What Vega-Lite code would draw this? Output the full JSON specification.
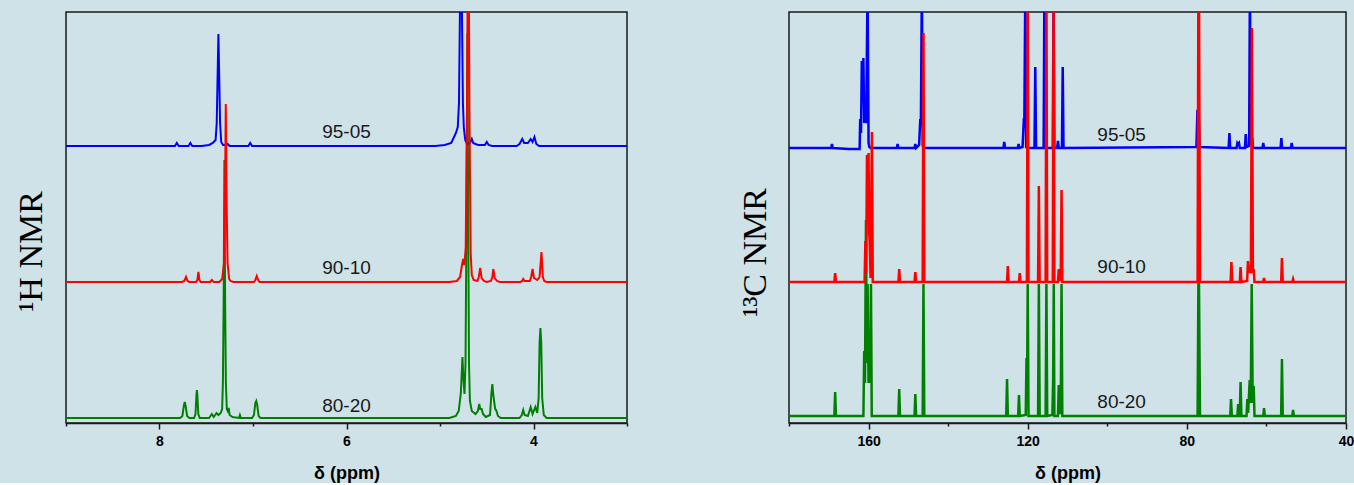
{
"$schema":"https://vega.github.io/schema/vega-lite/v6.json",
"background":"#cfe2e8",
"padding":{"left":13,"top":11,"right":0,"bottom":0},
"bounds":"flush",
"spacing":162,
"datasets":{
"h1b":[{"x":9,"y":277},{"x":7.87,"y":277},{"x":7.835,"y":277},{"x":7.815,"y":280},{"x":7.795,"y":277},{"x":7.69,"y":277},{"x":7.67,"y":280},{"x":7.65,"y":277},{"x":7.55,"y":277},{"x":7.47,"y":278},{"x":7.43,"y":280},{"x":7.4,"y":283},{"x":7.388,"y":300},{"x":7.378,"y":350},{"x":7.37,"y":389},{"x":7.362,"y":350},{"x":7.352,"y":300},{"x":7.34,"y":281},{"x":7.32,"y":278},{"x":7.29,"y":278},{"x":7.27,"y":279},{"x":7.25,"y":277},{"x":7.05,"y":277},{"x":7.03,"y":280},{"x":7.01,"y":277},{"x":5.05,"y":277},{"x":4.95,"y":278},{"x":4.88,"y":280},{"x":4.845,"y":287},{"x":4.83,"y":290},{"x":4.81,"y":296},{"x":4.797,"y":320},{"x":4.788,"y":400},{"x":4.78,"y":480},{"x":4.772,"y":480},{"x":4.764,"y":400},{"x":4.755,"y":320},{"x":4.745,"y":295},{"x":4.73,"y":283},{"x":4.71,"y":279},{"x":4.68,"y":280},{"x":4.66,"y":284},{"x":4.645,"y":280},{"x":4.62,"y":279},{"x":4.59,"y":278},{"x":4.52,"y":278},{"x":4.5,"y":281},{"x":4.48,"y":278},{"x":4.44,"y":277},{"x":4.18,"y":277},{"x":4.15,"y":279},{"x":4.12,"y":284},{"x":4.1,"y":280},{"x":4.06,"y":280},{"x":4.03,"y":284},{"x":4.01,"y":281},{"x":3.99,"y":286},{"x":3.97,"y":279},{"x":3.94,"y":277},{"x":3,"y":277}],
"h1r":[{"x":9,"y":141},{"x":7.76,"y":141},{"x":7.735,"y":142},{"x":7.716,"y":146},{"x":7.7,"y":142},{"x":7.68,"y":141},{"x":7.61,"y":141},{"x":7.595,"y":143},{"x":7.584,"y":151},{"x":7.573,"y":143},{"x":7.56,"y":141},{"x":7.46,"y":141},{"x":7.44,"y":143},{"x":7.42,"y":141},{"x":7.36,"y":141},{"x":7.33,"y":144},{"x":7.31,"y":160},{"x":7.3,"y":220},{"x":7.291,"y":319},{"x":7.282,"y":220},{"x":7.272,"y":160},{"x":7.255,"y":144},{"x":7.24,"y":142},{"x":7.21,"y":141},{"x":6.99,"y":141},{"x":6.975,"y":143},{"x":6.96,"y":147},{"x":6.945,"y":143},{"x":6.93,"y":141},{"x":4.9,"y":141},{"x":4.82,"y":142},{"x":4.785,"y":146},{"x":4.765,"y":158},{"x":4.752,"y":164},{"x":4.74,"y":158},{"x":4.725,"y":175},{"x":4.712,"y":300},{"x":4.703,"y":460},{"x":4.693,"y":460},{"x":4.684,"y":300},{"x":4.672,"y":170},{"x":4.66,"y":148},{"x":4.64,"y":143},{"x":4.6,"y":142},{"x":4.585,"y":146},{"x":4.57,"y":155},{"x":4.555,"y":145},{"x":4.53,"y":142},{"x":4.5,"y":141},{"x":4.455,"y":142},{"x":4.44,"y":146},{"x":4.43,"y":154},{"x":4.415,"y":145},{"x":4.39,"y":142},{"x":4.36,"y":141},{"x":4.14,"y":141},{"x":4.12,"y":142},{"x":4.11,"y":144},{"x":4.095,"y":142},{"x":4.04,"y":142},{"x":4.025,"y":146},{"x":4.01,"y":154},{"x":3.995,"y":145},{"x":3.96,"y":143},{"x":3.935,"y":146},{"x":3.915,"y":171},{"x":3.9,"y":146},{"x":3.885,"y":142},{"x":3.86,"y":141},{"x":3,"y":141}],
"h1g":[{"x":9,"y":5},{"x":7.78,"y":5},{"x":7.755,"y":7},{"x":7.74,"y":17},{"x":7.73,"y":21},{"x":7.72,"y":17},{"x":7.705,"y":7},{"x":7.68,"y":5},{"x":7.63,"y":5},{"x":7.615,"y":9},{"x":7.605,"y":28},{"x":7.6,"y":33},{"x":7.595,"y":28},{"x":7.585,"y":9},{"x":7.57,"y":5},{"x":7.47,"y":5},{"x":7.44,"y":9},{"x":7.42,"y":6},{"x":7.39,"y":10},{"x":7.37,"y":8},{"x":7.345,"y":10},{"x":7.33,"y":14},{"x":7.322,"y":40},{"x":7.314,"y":120},{"x":7.306,"y":263},{"x":7.298,"y":120},{"x":7.29,"y":40},{"x":7.28,"y":14},{"x":7.27,"y":12},{"x":7.26,"y":15},{"x":7.25,"y":8},{"x":7.22,"y":6},{"x":7.15,"y":5},{"x":7.14,"y":8},{"x":7.13,"y":5},{"x":7.01,"y":5},{"x":6.99,"y":8},{"x":6.975,"y":20},{"x":6.965,"y":22},{"x":6.955,"y":18},{"x":6.94,"y":7},{"x":6.92,"y":5},{"x":4.9,"y":5},{"x":4.83,"y":7},{"x":4.8,"y":12},{"x":4.777,"y":30},{"x":4.76,"y":66},{"x":4.75,"y":45},{"x":4.738,"y":29},{"x":4.727,"y":60},{"x":4.717,"y":200},{"x":4.707,"y":390},{"x":4.698,"y":200},{"x":4.69,"y":60},{"x":4.68,"y":22},{"x":4.66,"y":12},{"x":4.62,"y":9},{"x":4.595,"y":12},{"x":4.58,"y":19},{"x":4.57,"y":14},{"x":4.555,"y":14},{"x":4.54,"y":9},{"x":4.51,"y":6},{"x":4.465,"y":8},{"x":4.45,"y":30},{"x":4.44,"y":39},{"x":4.43,"y":28},{"x":4.41,"y":14},{"x":4.4,"y":13},{"x":4.38,"y":7},{"x":4.35,"y":5},{"x":4.15,"y":5},{"x":4.125,"y":8},{"x":4.11,"y":13},{"x":4.095,"y":8},{"x":4.06,"y":7},{"x":4.03,"y":16},{"x":4.01,"y":9},{"x":3.98,"y":16},{"x":3.96,"y":10},{"x":3.945,"y":25},{"x":3.935,"y":80},{"x":3.926,"y":95},{"x":3.917,"y":80},{"x":3.907,"y":25},{"x":3.89,"y":8},{"x":3.86,"y":5},{"x":3,"y":5}],
"c13b":[{"x":180,"y":275},{"x":169.4,"y":275},{"x":169.2,"y":279},{"x":169,"y":275},{"x":165,"y":274},{"x":162.4,"y":274},{"x":162.25,"y":274},{"x":162.1,"y":304},{"x":161.9,"y":290},{"x":161.7,"y":362},{"x":161.5,"y":320},{"x":161.3,"y":365},{"x":161.1,"y":300},{"x":160.95,"y":307},{"x":160.8,"y":307},{"x":160.6,"y":300},{"x":160.25,"y":440},{"x":160,"y":280},{"x":159.8,"y":276},{"x":159.5,"y":275},{"x":152.9,"y":275},{"x":152.7,"y":279},{"x":152.5,"y":275},{"x":148.45,"y":275},{"x":148.25,"y":279},{"x":148.05,"y":275},{"x":147.3,"y":278},{"x":147,"y":304},{"x":146.85,"y":300},{"x":146.6,"y":440},{"x":146.4,"y":278},{"x":146.2,"y":275},{"x":126.1,"y":275},{"x":125.9,"y":281},{"x":125.7,"y":275},{"x":122.5,"y":275},{"x":122.3,"y":279},{"x":122.1,"y":275},{"x":121.3,"y":276},{"x":121,"y":301},{"x":120.85,"y":300},{"x":120.6,"y":440},{"x":120.4,"y":276},{"x":120.2,"y":275},{"x":118.3,"y":275},{"x":118.1,"y":356},{"x":117.9,"y":275},{"x":116,"y":275},{"x":115.8,"y":440},{"x":115.6,"y":275},{"x":113.7,"y":275},{"x":113.5,"y":440},{"x":113.3,"y":275},{"x":112.6,"y":275},{"x":112.4,"y":282},{"x":112.2,"y":275},{"x":111.4,"y":275},{"x":111.2,"y":356},{"x":111,"y":275},{"x":77.6,"y":276},{"x":77.35,"y":312},{"x":77.05,"y":312},{"x":76.8,"y":276},{"x":69.5,"y":275},{"x":69.3,"y":290},{"x":69.1,"y":275},{"x":67.5,"y":275},{"x":67.3,"y":280},{"x":67.1,"y":279},{"x":66.9,"y":280},{"x":66.7,"y":275},{"x":65.4,"y":275},{"x":65.2,"y":289},{"x":65,"y":276},{"x":64.35,"y":277},{"x":64.15,"y":440},{"x":63.95,"y":278},{"x":63.55,"y":285},{"x":63.35,"y":275},{"x":61,"y":275},{"x":60.8,"y":280},{"x":60.6,"y":275},{"x":56.45,"y":275},{"x":56.25,"y":285},{"x":56.05,"y":275},{"x":53.85,"y":275},{"x":53.65,"y":280},{"x":53.45,"y":275},{"x":40,"y":275}],
"c13r":[{"x":180,"y":141},{"x":168.6,"y":141},{"x":168.4,"y":150},{"x":168.2,"y":141},{"x":161,"y":141},{"x":160.8,"y":182},{"x":160.6,"y":150},{"x":160.4,"y":268},{"x":160.2,"y":200},{"x":160,"y":270},{"x":159.85,"y":190},{"x":159.75,"y":185},{"x":159.5,"y":145},{"x":159.15,"y":291},{"x":158.95,"y":141},{"x":152.5,"y":141},{"x":152.3,"y":154},{"x":152.1,"y":141},{"x":148.45,"y":141},{"x":148.25,"y":151},{"x":148.05,"y":141},{"x":146.4,"y":141},{"x":146.2,"y":390},{"x":146,"y":141},{"x":125.2,"y":141},{"x":125,"y":157},{"x":124.8,"y":141},{"x":122.2,"y":141},{"x":122,"y":150},{"x":121.8,"y":141},{"x":120.2,"y":141},{"x":120,"y":440},{"x":119.8,"y":141},{"x":117.4,"y":141},{"x":117.2,"y":237},{"x":117,"y":141},{"x":115.5,"y":141},{"x":115.3,"y":440},{"x":115.1,"y":141},{"x":113.7,"y":141},{"x":113.5,"y":440},{"x":113.3,"y":141},{"x":112.4,"y":141},{"x":112.2,"y":154},{"x":112,"y":143},{"x":111.7,"y":143},{"x":111.5,"y":233},{"x":111.3,"y":141},{"x":77.3,"y":141},{"x":77.1,"y":440},{"x":76.95,"y":440},{"x":76.7,"y":141},{"x":69,"y":141},{"x":68.8,"y":161},{"x":68.6,"y":141},{"x":66.7,"y":141},{"x":66.5,"y":156},{"x":66.3,"y":141},{"x":64.85,"y":142},{"x":64.65,"y":162},{"x":64.45,"y":150},{"x":64.15,"y":157},{"x":63.9,"y":150},{"x":63.65,"y":395},{"x":63.4,"y":150},{"x":63.2,"y":154},{"x":63,"y":141},{"x":60.8,"y":141},{"x":60.6,"y":145},{"x":60.4,"y":141},{"x":56.3,"y":141},{"x":56.1,"y":165},{"x":55.9,"y":141},{"x":53.5,"y":141},{"x":53.3,"y":144},{"x":53.1,"y":141},{"x":40,"y":141}],
"c13g":[{"x":180,"y":7},{"x":168.6,"y":7},{"x":168.4,"y":31},{"x":168.2,"y":7},{"x":161.3,"y":7},{"x":161.1,"y":72},{"x":160.9,"y":40},{"x":160.65,"y":203},{"x":160.45,"y":60},{"x":160.25,"y":139},{"x":160,"y":40},{"x":159.75,"y":75},{"x":159.6,"y":40},{"x":159.4,"y":139},{"x":159.2,"y":7},{"x":152.5,"y":7},{"x":152.3,"y":34},{"x":152.1,"y":7},{"x":148.45,"y":7},{"x":148.25,"y":29},{"x":148.05,"y":7},{"x":146.4,"y":7},{"x":146.2,"y":139},{"x":146,"y":7},{"x":125.4,"y":7},{"x":125.2,"y":44},{"x":125,"y":7},{"x":122.4,"y":7},{"x":122.2,"y":28},{"x":122,"y":7},{"x":120.5,"y":8},{"x":120.3,"y":65},{"x":120.15,"y":40},{"x":120,"y":139},{"x":119.8,"y":7},{"x":117.4,"y":7},{"x":117.2,"y":139},{"x":117,"y":7},{"x":115.5,"y":7},{"x":115.3,"y":139},{"x":115.1,"y":7},{"x":113.8,"y":8},{"x":113.6,"y":45},{"x":113.45,"y":139},{"x":113.3,"y":7},{"x":112.4,"y":7},{"x":112.2,"y":38},{"x":112,"y":10},{"x":111.7,"y":10},{"x":111.5,"y":139},{"x":111.3,"y":7},{"x":77.3,"y":7},{"x":77.1,"y":139},{"x":76.95,"y":139},{"x":76.7,"y":7},{"x":69.1,"y":7},{"x":68.9,"y":24},{"x":68.7,"y":7},{"x":67.3,"y":7},{"x":67.1,"y":19},{"x":66.9,"y":7},{"x":66.7,"y":7},{"x":66.5,"y":41},{"x":66.3,"y":7},{"x":65,"y":7},{"x":64.8,"y":24},{"x":64.6,"y":10},{"x":64.2,"y":43},{"x":63.95,"y":20},{"x":63.7,"y":139},{"x":63.45,"y":20},{"x":63.2,"y":37},{"x":63,"y":7},{"x":60.8,"y":7},{"x":60.6,"y":15},{"x":60.4,"y":7},{"x":56.3,"y":7},{"x":56.1,"y":64},{"x":55.9,"y":7},{"x":53.5,"y":7},{"x":53.3,"y":13},{"x":53.1,"y":7},{"x":40,"y":7}],
"lab1":[{"x":6.0,"y":291,"t":"95-05"},{"x":6.0,"y":155,"t":"90-10"},{"x":6.0,"y":17,"t":"80-20"}],
"lab2":[{"x":96.4,"y":288,"t":"95-05"},{"x":96.4,"y":156,"t":"90-10"},{"x":96.4,"y":21,"t":"80-20"}]
},
"hconcat":[
{
"width":561,"height":411,
"encoding":{
"x":{"field":"x","type":"quantitative","scale":{"domain":[9,3],"nice":false,"zero":false},
"axis":{"title":"δ (ppm)","values":[9,8,7,6,5,4,3],"labelExpr":"datum.value % 2 == 0 ? datum.label : ''","tickSize":{"condition":{"test":"datum.value % 2 == 0","value":6},"value":3}}},
"y":{"field":"y","type":"quantitative","scale":{"domain":[0,411],"nice":false,"zero":false},
"axis":{"title":"¹H NMR","labels":false,"ticks":false,"domain":false,"grid":false,"titleFont":"Liberation Serif","titleFontSize":34,"titleFontWeight":"normal","titleColor":"#000000","titleAngle":270,"titleX":-35,"titleY":239,"titleAlign":"center","titleBaseline":"middle"}}},
"layer":[
{"data":{"name":"h1g"},"mark":{"type":"line","color":"#008000","strokeWidth":2,"clip":true}},
{"data":{"name":"h1b"},"mark":{"type":"line","color":"#0000ff","strokeWidth":2,"clip":true}},
{"data":{"name":"h1r"},"mark":{"type":"line","color":"#ff0000","strokeWidth":2,"clip":true}},
{"data":{"name":"lab1"},"mark":{"type":"text","font":"Liberation Sans","fontSize":19,"color":"#1a1a1a","align":"center","baseline":"middle"},
"encoding":{"text":{"field":"t"}}}
]
},
{
"width":557,"height":411,
"encoding":{
"x":{"field":"x","type":"quantitative","scale":{"domain":[180,40],"nice":false,"zero":false},
"axis":{"title":"δ (ppm)","values":[180,160,140,120,100,80,60,40],"labelExpr":"datum.value % 40 == 0 ? datum.label : ''","tickSize":{"condition":{"test":"datum.value % 40 == 0","value":6},"value":3}}},
"y":{"field":"y","type":"quantitative","scale":{"domain":[0,411],"nice":false,"zero":false},
"axis":{"title":"¹³C NMR","labels":false,"ticks":false,"domain":false,"grid":false,"titleFont":"Liberation Serif","titleFontSize":34,"titleFontWeight":"normal","titleColor":"#000000","titleAngle":270,"titleX":-34,"titleY":240,"titleAlign":"center","titleBaseline":"middle"}}},
"layer":[
{"data":{"name":"c13g"},"mark":{"type":"line","color":"#008000","strokeWidth":2.5,"clip":true}},
{"data":{"name":"c13b"},"mark":{"type":"line","color":"#0000ff","strokeWidth":2.5,"clip":true}},
{"data":{"name":"c13r"},"mark":{"type":"line","color":"#ff0000","strokeWidth":2.5,"clip":true}},
{"data":{"name":"lab2"},"mark":{"type":"text","font":"Liberation Sans","fontSize":19,"color":"#1a1a1a","align":"center","baseline":"middle"},
"encoding":{"text":{"field":"t"}}}
]
}
],
"config":{
"view":{"stroke":"#1a1a1a","strokeWidth":1.5},
"axisX":{"grid":false,"domain":true,"domainColor":"#1a1a1a","domainWidth":1.5,"tickColor":"#1a1a1a","tickWidth":1.5,"labelFont":"Liberation Sans","labelFontWeight":"bold","labelFontSize":14,"labelColor":"#000000","labelPadding":5,"labelFlush":false,"labelOverlap":false,"labelBound":false,"titleFont":"Liberation Sans","titleFontSize":18,"titleFontWeight":"bold","titleColor":"#000000","titlePadding":16}
}
}
